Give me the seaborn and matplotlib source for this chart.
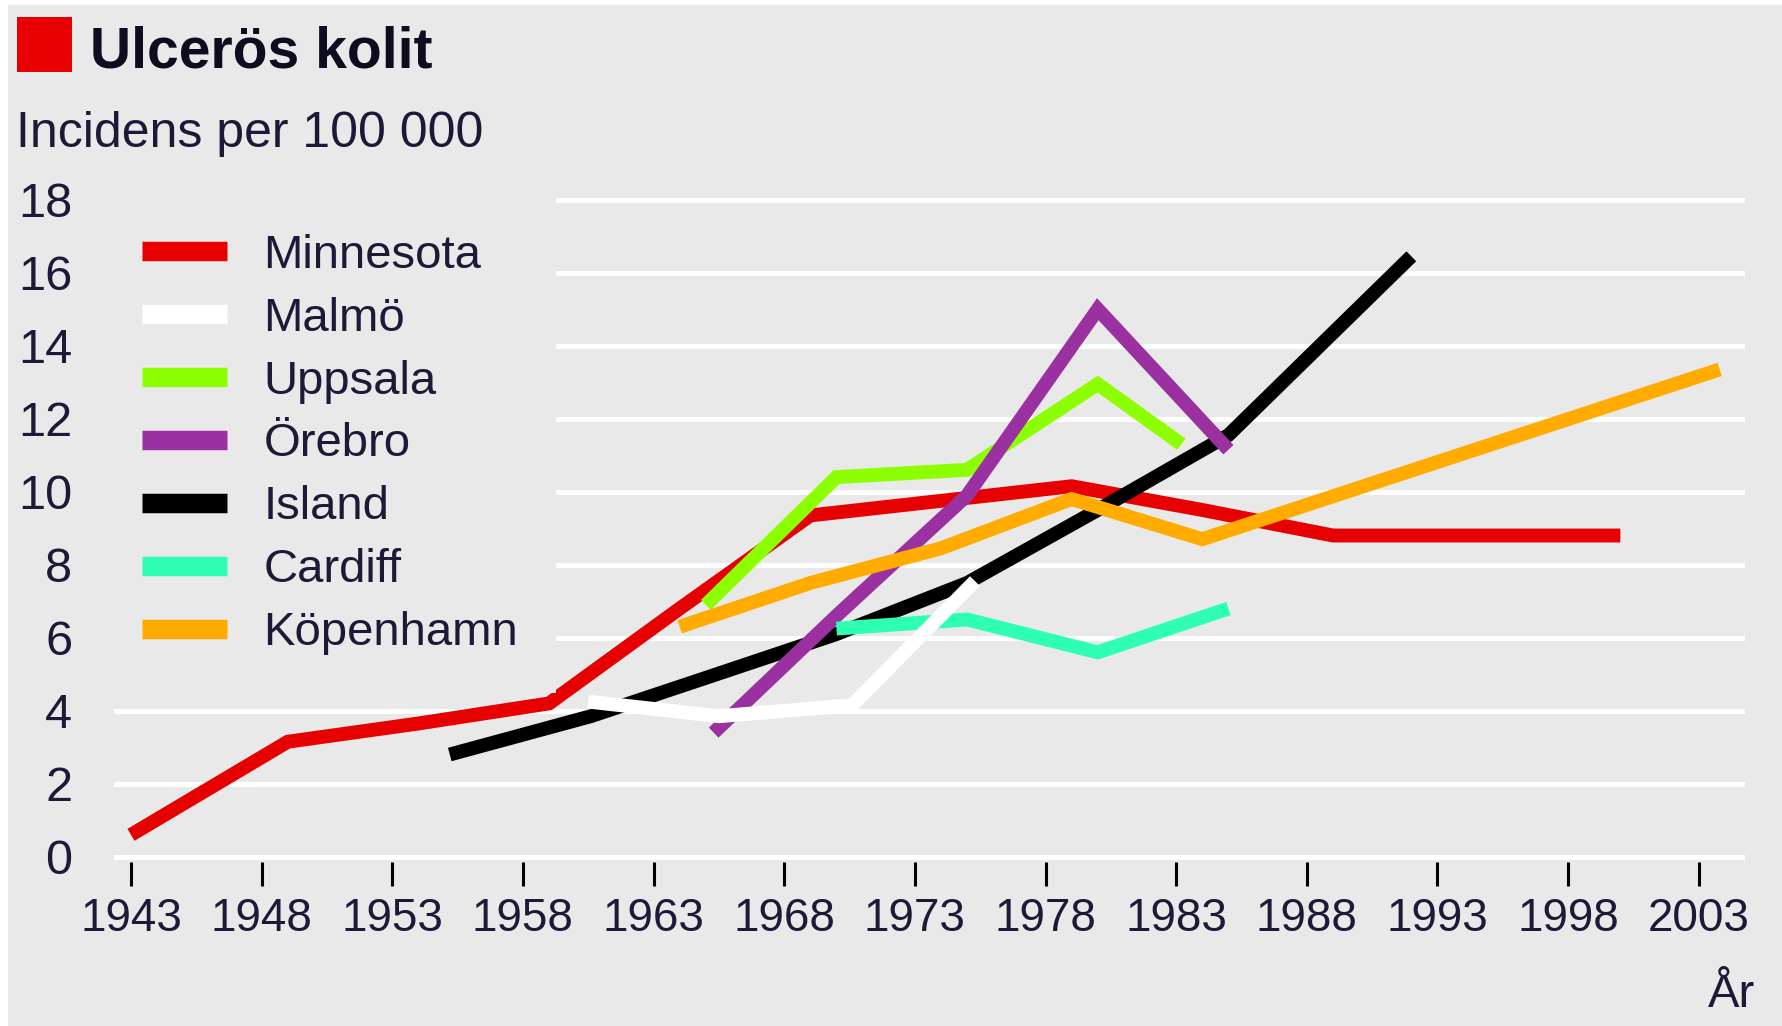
import pandas as pd
import matplotlib.pyplot as plt
from matplotlib.patches import Rectangle
import seaborn as sns

sns.set_theme(style="white")
plt.rcParams['font.family'] = ['Liberation Sans', 'DejaVu Sans']

W, H = 1783, 1026
BG = '#e9e9e9'
INK = '#1c1a36'

# avlästa värden: år och incidens per 100 000
minnesota_ar = [1943, 1949, 1954, 1959, 1964, 1969, 1974, 1979, 1984, 1989, 1994, 2000]
minnesota = [0.6, 3.15, 3.65, 4.2, 6.8, 9.35, 9.75, 10.15, 9.5, 8.8, 8.8, 8.8]
malmo_ar = [1960.5, 1965.5, 1970.6, 1975.3]
malmo = [4.25, 3.85, 4.15, 7.55]
uppsala_ar = [1965, 1970, 1975, 1980, 1983.2]
uppsala = [6.9, 10.4, 10.6, 12.95, 11.3]
orebro_ar = [1965.3, 1970, 1975, 1980, 1985]
orebro = [3.4, 6.6, 9.9, 15.0, 11.15]
island_ar = [1955.2, 1960.6, 1965, 1970, 1975, 1980, 1985, 1992]
island = [2.8, 3.85, 4.9, 6.1, 7.5, 9.5, 11.55, 16.45]
cardiff_ar = [1970, 1975, 1980, 1985]
cardiff = [6.25, 6.5, 5.6, 6.8]
kopenhamn_ar = [1964, 1969, 1974, 1979, 1984, 2003.8]
kopenhamn = [6.3, 7.5, 8.45, 9.8, 8.7, 13.35]

regioner = ['Minnesota', 'Malmö', 'Uppsala', 'Örebro', 'Island', 'Cardiff', 'Köpenhamn']
farger = ['#e60000', '#ffffff', '#8cff00', '#9b30a0', '#000000', '#2effb3', '#ffab00']
ar_ticks = list(range(1943, 2004, 5))
y_ticks = list(range(0, 19, 2))

serier = [minnesota_ar, malmo_ar, uppsala_ar, orebro_ar, island_ar, cardiff_ar, kopenhamn_ar]
varden = [minnesota, malmo, uppsala, orebro, island, cardiff, kopenhamn]
df = pd.concat([pd.DataFrame({'år': x, 'incidens': y, 'region': namn})
                for namn, x, y in zip(regioner, serier, varden)], ignore_index=True)
palett = dict(zip(regioner, farger))

fig = plt.figure(figsize=(W / 100, H / 100), dpi=100, facecolor='white')
fig.patches.append(Rectangle((8 / W, 0), 1, 1 - 5 / H, transform=fig.transFigure,
                             facecolor=BG, edgecolor='none', zorder=-10))
ax = fig.add_axes([114 / W, 1 - 862.2 / H, (1745 - 114) / W, (862.2 - 192.4) / H])
ax.set_facecolor(BG)

# ritordning: vit linje överst
for namn in ['Minnesota', 'Uppsala', 'Island', 'Örebro', 'Köpenhamn', 'Cardiff', 'Malmö']:
    sns.lineplot(data=df[df['region'] == namn], x='år', y='incidens', color=palett[namn],
                 lw=10, ax=ax, label=namn, estimator=None, sort=False,
                 solid_capstyle='butt', solid_joinstyle='miter')

ax.set_xlim(1942.35, 2004.77)
ax.set_ylim(-0.15, 18.2)
ax.set_xticks(ar_ticks)
ax.set_yticks(y_ticks)
ax.set_xlabel('')
ax.set_ylabel('')
ax.tick_params(axis='x', bottom=True, length=17, width=2.2, color='black', direction='out',
               pad=8, labelsize=33, labelcolor=INK)
ax.tick_params(axis='y', left=False, length=0, pad=30, labelsize=35, labelcolor=INK)
ax.grid(axis='y', color='white', lw=3.6)
ax.grid(axis='x', visible=False)
ax.set_axisbelow(True)
for s in ax.spines.values():
    s.set_visible(False)

h, l = ax.get_legend_handles_labels()
hd = dict(zip(l, h))
leg = ax.legend([hd[n] for n in regioner], regioner, loc='upper left',
                bbox_to_anchor=(104 / W, 1 - 196 / H), bbox_transform=fig.transFigure,
                borderaxespad=0, borderpad=0.8, labelspacing=0.4, handlelength=1.8,
                handletextpad=0.78, fontsize=34, frameon=True, fancybox=False,
                facecolor=BG, edgecolor='none', framealpha=1)
for t in leg.get_texts():
    t.set_color(INK)
for ln in leg.get_lines():
    ln.set_linewidth(14)
    ln.set_solid_capstyle('butt')

# rubrik
fig.patches.append(Rectangle((17 / W, 1 - 72 / H), 55 / W, 55 / H, transform=fig.transFigure,
                             facecolor='#e60000', edgecolor='none'))
fig.text(90 / W, 1 - 68 / H, 'Ulcerös kolit', fontsize=41, fontweight='bold',
         color='#0d0d1f', va='baseline')
fig.text(16 / W, 1 - 147 / H, 'Incidens per 100 000', fontsize=36, color=INK, va='baseline')
fig.text(1755 / W, 1 - 1007 / H, 'År', fontsize=34, color=INK, ha='right', va='baseline')

fig.savefig('out.png', dpi=100, facecolor=fig.get_facecolor())
plt.close()
